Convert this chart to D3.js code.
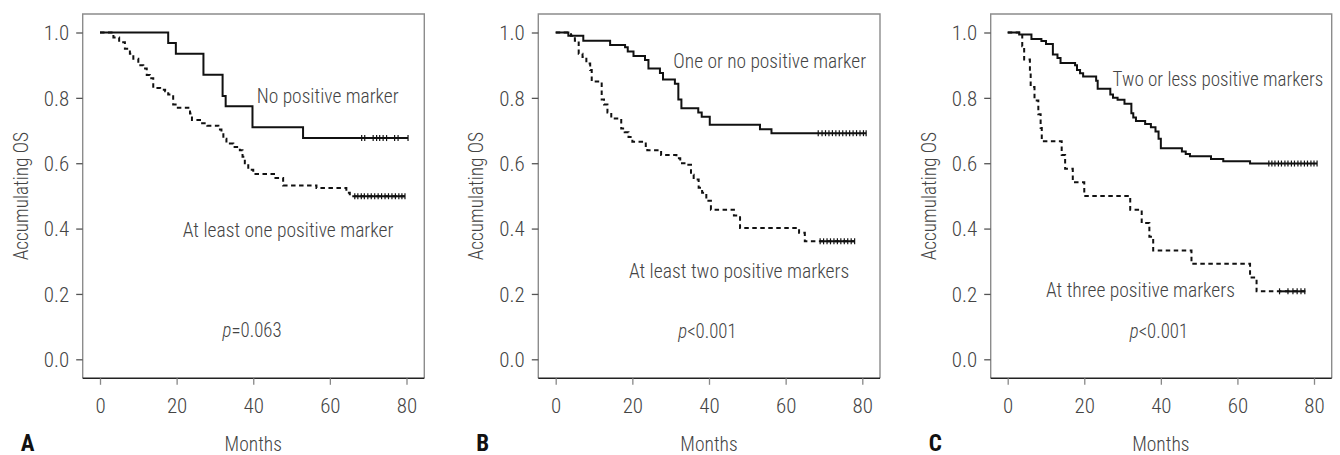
<!DOCTYPE html>
<html>
<head>
<meta charset="utf-8">
<script src="https://cdn.jsdelivr.net/npm/d3@7"></script>
<style>
  html, body { margin: 0; padding: 0; background: #fff; }
  svg { display: block; }
  text { font-family: "Liberation Sans Narrow", "Roboto Condensed", "DejaVu Sans Condensed", "Liberation Sans", sans-serif; fill: #444; font-weight: 300; }
</style>
</head>
<body>
<svg id="chart" width="1340" height="455"></svg>
<script>
// ---------------- DATA ----------------
const xTicks = [0, 20, 40, 60, 80];
const yTicks = [0, 0.2, 0.4, 0.6, 0.8, 1.0];
const xTitle = "Months";
const yTitle = "Accumulating OS";
const panelLetters = ["A", "B", "C"];

// Panel A
const aSolidTime = [0, 17.8, 19.8, 27.0, 32.0, 32.8, 39.8, 53.0, 80.4];
const aSolidSurv = [1.0, 0.968, 0.935, 0.871, 0.806, 0.774, 0.710, 0.677, 0.677];
const aSolidCensor = [68.3, 69.1, 71.3, 72.2, 73.0, 73.9, 74.8, 76.9, 77.8, 80.4];
const aDashTime = [0, 3.5, 5.0, 6.5, 7.8, 8.7, 10.0, 11.3, 12.2, 13.0, 13.9, 15.7, 17.0, 17.8, 19.1, 20.0, 23.5, 24.0, 26.1, 28.0, 30.9, 31.7, 32.2, 33.0, 34.8, 36.5, 37.2, 37.8, 38.7, 40.0, 45.8, 47.8, 56.5, 64.3, 65.2, 79.6];
const aDashSurv = [1, 0.985, 0.97, 0.95, 0.935, 0.92, 0.90, 0.89, 0.87, 0.86, 0.83, 0.825, 0.82, 0.81, 0.78, 0.77, 0.752, 0.732, 0.722, 0.715, 0.703, 0.695, 0.675, 0.66, 0.65, 0.64, 0.62, 0.60, 0.58, 0.567, 0.555, 0.532, 0.524, 0.51, 0.499, 0.499];
const aDashCensor = [66.5, 67.3, 68.2, 69.0, 69.9, 70.8, 71.7, 72.6, 73.5, 74.4, 75.3, 76.2, 77.1, 78.0, 78.8, 79.6];
const aLabels = ["No positive marker", "At least one positive marker"];
const aPValue = "=0.063";

// Panel B
const bSolidTime = [0, 3.3, 7.2, 14.2, 18.1, 18.8, 20.3, 23.3, 24.2, 27.2, 28.0, 31.1, 32.0, 32.8, 37.2, 38.1, 40.2, 53.3, 56.3, 81.0];
const bSolidSurv = [1, 0.99, 0.975, 0.962, 0.955, 0.942, 0.928, 0.916, 0.89, 0.876, 0.856, 0.843, 0.795, 0.768, 0.755, 0.742, 0.718, 0.704, 0.692, 0.692];
const bSolidCensor = [68.5, 69.5, 70.4, 71.3, 72.2, 73.1, 74.0, 74.9, 75.8, 76.7, 77.6, 78.5, 79.4, 80.3, 81.0];
const bDashTime = [0, 4.0, 5.0, 6.0, 7.0, 8.0, 9.0, 9.4, 12.0, 12.6, 13.5, 14.5, 17.1, 18.0, 19.0, 20.0, 23.5, 23.9, 27.5, 31.5, 32.5, 34.0, 35.3, 36.0, 37.3, 38.2, 39.3, 40.5, 46.5, 48.1, 63.5, 65.0, 78.0];
const bDashSurv = [1, 0.99, 0.975, 0.935, 0.925, 0.905, 0.885, 0.85, 0.795, 0.78, 0.755, 0.737, 0.706, 0.695, 0.68, 0.666, 0.653, 0.64, 0.625, 0.615, 0.60, 0.595, 0.565, 0.55, 0.525, 0.51, 0.485, 0.458, 0.44, 0.402, 0.387, 0.361, 0.361];
const bDashCensor = [69.0, 69.9, 70.8, 71.7, 72.6, 73.5, 74.4, 75.3, 76.2, 77.1, 78.0];
const bLabels = ["One or no positive marker", "At least two positive markers"];
const bPValue = "<0.001";

// Panel C
const cSolidTime = [0, 3.0, 6.2, 8.8, 10.0, 11.8, 13.0, 13.8, 17.6, 18.1, 18.9, 19.7, 23.1, 23.5, 26.8, 27.5, 28.7, 30.5, 32.3, 32.8, 33.5, 35.9, 37.4, 38.6, 39.4, 40.0, 45.5, 46.5, 47.6, 53.1, 56.3, 63.3, 80.8];
const cSolidSurv = [1, 0.994, 0.98, 0.974, 0.965, 0.933, 0.922, 0.907, 0.9, 0.885, 0.875, 0.865, 0.852, 0.828, 0.81, 0.8, 0.794, 0.782, 0.753, 0.74, 0.729, 0.72, 0.71, 0.697, 0.675, 0.646, 0.636, 0.628, 0.621, 0.613, 0.606, 0.599, 0.599];
const cSolidCensor = [68.2, 69.0, 69.8, 70.7, 71.5, 72.4, 73.2, 74.1, 74.9, 75.8, 76.6, 77.5, 78.3, 79.2, 80.0, 80.8];
const cDashTime = [0, 3.8, 4.3, 5.8, 6.0, 7.0, 8.0, 8.6, 8.9, 14.1, 15.0, 17.0, 20.0, 32.0, 35.0, 37.0, 38.0, 48.0, 63.3, 65.0, 78.0];
const cDashSurv = [1, 0.958, 0.917, 0.875, 0.833, 0.792, 0.75, 0.708, 0.667, 0.625, 0.583, 0.542, 0.5, 0.458, 0.417, 0.375, 0.333, 0.292, 0.25, 0.208, 0.208];
const cDashCensor = [71.0, 73.2, 74.5, 75.6, 76.6, 77.6];
const cLabels = ["Two or less positive markers", "At three positive markers"];
const cPValue = "<0.001";

// ---------------- LAYOUT ----------------
const frameTop = 14, frameBottom = 378.3;
const yPixTop = 32.5, yPixBottom = 359.3;
const panels = [
  { left: 82.7, right: 424.3, x0: 100.0, x80: 406.5,
    solid: [aSolidTime, aSolidSurv, aSolidCensor], dash: [aDashTime, aDashSurv, aDashCensor],
    labels: aLabels, p: aPValue, labelW: [142, 210.7], pW: 59,
    labelPos: [[40.9, 0.783], [21.6, 0.375]], pPos: [32.0, 0.067] },
  { left: 538.3, right: 880.0, x0: 555.7, x80: 862.3,
    solid: [bSolidTime, bSolidSurv, bSolidCensor], dash: [bDashTime, bDashSurv, bDashCensor],
    labels: bLabels, p: bPValue, labelW: [192.7, 220.3], pW: 58.3,
    labelPos: [[30.7, 0.890], [19.1, 0.250]], pPos: [32.0, 0.066] },
  { left: 990.7, right: 1331.7, x0: 1007.7, x80: 1314.0,
    solid: [cSolidTime, cSolidSurv, cSolidCensor], dash: [cDashTime, cDashSurv, cDashCensor],
    labels: cLabels, p: cPValue, labelW: [210.7, 189], pW: 58.3,
    labelPos: [[27.4, 0.836], [10.0, 0.192]], pPos: [31.9, 0.064] }
];

const svg = d3.select("#chart");
const fs = 21;
const labelFs = 20;

panels.forEach((P, i) => {
  const x = d3.scaleLinear().domain([0, 80]).range([P.x0, P.x80]);
  const y = d3.scaleLinear().domain([0, 1]).range([yPixBottom, yPixTop]);
  const g = svg.append("g");

  // frame
  g.append("path")
    .attr("d", `M${P.left},${frameBottom}V${frameTop}H${P.right}V${frameBottom}`)
    .attr("fill", "none").attr("stroke", "#8c8c8c").attr("stroke-width", 1.4);
  g.append("line").attr("x1", P.left).attr("x2", P.right)
    .attr("y1", frameBottom).attr("y2", frameBottom)
    .attr("stroke", "#222").attr("stroke-width", 1.4);

  // y axis
  const ya = g.append("g").attr("transform", `translate(${P.left},0)`)
    .call(d3.axisLeft(y).tickValues(yTicks).tickFormat(d3.format(".1f")).tickSize(6.5).tickPadding(7));
  ya.select(".domain").remove();
  ya.attr("font-family", null).attr("font-size", null);
  ya.selectAll(".tick line").attr("stroke", "#555").attr("stroke-width", 1.3);
  ya.selectAll(".tick text").attr("font-size", fs).attr("fill", "#444").attr("dy", "0.34em");
  // x axis
  const xa = g.append("g").attr("transform", `translate(0,${frameBottom})`)
    .call(d3.axisBottom(x).tickValues(xTicks).tickFormat(d3.format("d")).tickSize(6.5).tickPadding(13));
  xa.select(".domain").remove();
  xa.attr("font-family", null).attr("font-size", null);
  xa.selectAll(".tick line").attr("stroke", "#888").attr("stroke-width", 1.3);
  xa.selectAll(".tick text").attr("font-size", fs).attr("fill", "#444");

  // titles
  g.append("text").attr("x", (P.x0 + P.x80) / 2).attr("y", 450.5)
    .attr("text-anchor", "middle").attr("font-size", fs)
    .attr("textLength", 57.3).attr("lengthAdjust", "spacingAndGlyphs").text(xTitle);
  g.append("text")
    .attr("transform", `translate(${P.left - 55},${(frameTop + frameBottom) / 2}) rotate(-90)`)
    .attr("text-anchor", "middle").attr("font-size", fs)
    .attr("textLength", 128.3).attr("lengthAdjust", "spacingAndGlyphs").text(yTitle);
  g.append("text").attr("x", P.left - 62).attr("y", 450.5)
    .attr("font-size", 23).style("font-weight", "bold").style("fill", "#111")
    .text(panelLetters[i]);

  // curves
  const line = d3.line().x(d => x(d[0])).y(d => y(d[1])).curve(d3.curveStepAfter);
  const drawCurve = (arr, dashed) => {
    const [T, S, C] = arr;
    const pts = T.map((t, k) => [t, S[k]]);
    g.append("path").datum(pts).attr("d", line)
      .attr("fill", "none").attr("stroke", "#111").attr("stroke-width", 2)
      .attr("stroke-dasharray", dashed ? "4.5,3.5" : null);
    const last = S[S.length - 1];
    g.selectAll(null).data(C).enter().append("line")
      .attr("x1", d => x(d)).attr("x2", d => x(d))
      .attr("y1", y(last) - 3).attr("y2", y(last) + 3)
      .attr("stroke", "#111").attr("stroke-width", 1.2);
    if (dashed) {
      g.append("line").attr("x1", x(C[0])).attr("x2", x(C[C.length - 1]))
        .attr("y1", y(last)).attr("y2", y(last))
        .attr("stroke", "#111").attr("stroke-width", 2);
    }
  };
  drawCurve(P.solid, false);
  drawCurve(P.dash, true);

  // labels
  P.labels.forEach((lab, k) => {
    g.append("text").attr("x", x(P.labelPos[k][0])).attr("y", y(P.labelPos[k][1]))
      .attr("font-size", labelFs).attr("textLength", P.labelW[k]).attr("lengthAdjust", "spacingAndGlyphs")
      .text(lab);
  });
  const pt = g.append("text").attr("x", x(P.pPos[0])).attr("y", y(P.pPos[1])).attr("font-size", fs)
    .attr("textLength", P.pW).attr("lengthAdjust", "spacingAndGlyphs");
  pt.append("tspan").attr("font-style", "italic").text("p");
  pt.append("tspan").text(P.p);
});
</script>
</body>
</html>
